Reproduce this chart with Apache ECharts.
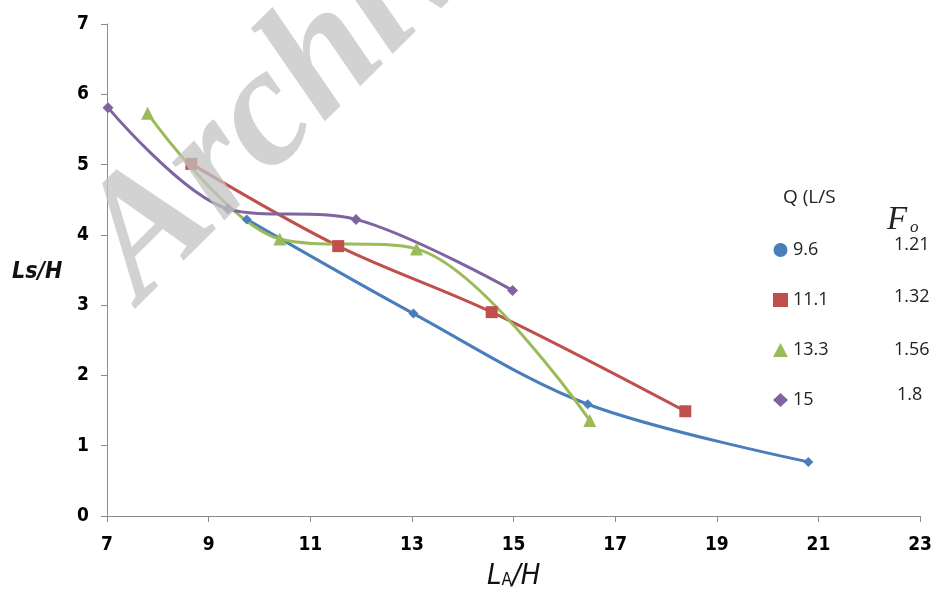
<!DOCTYPE html>
<html><head><meta charset="utf-8">
<script src="https://cdn.jsdelivr.net/npm/echarts@6/dist/echarts.min.js"></script>
<style>html,body{margin:0;padding:0;background:#fff}#c{width:935px;height:597px}</style>
</head><body><div id="c"></div>
<script>
const seriesNames = ['9.6', '11.1', '13.3', '15'];
const foValues = ['1.21', '1.32', '1.56', '1.8'];
const q96 = [[9.75, 4.22], [13.03, 2.88], [16.46, 1.59], [20.8, 0.77]];
const q111 = [[8.66, 5.01], [11.55, 3.84], [14.57, 2.9], [18.38, 1.49]];
const q133 = [[7.8, 5.73], [10.4, 3.94], [13.09, 3.8], [16.5, 1.36]];
const q15 = [[7.02, 5.81], [9.38, 4.37], [11.9, 4.22], [14.98, 3.21]];
const xTicks = [7, 9, 11, 13, 15, 17, 19, 21, 23];
const yTicks = [0, 1, 2, 3, 4, 5, 6, 7];

const colors = ['#4A7EBB', '#C0504D', '#9BBB59', '#8064A2'];
const plotSymbols = ['diamond', 'rect', 'triangle', 'diamond'];
const plotSizes = [10, 12, 13, 11];
const legendIcons = ['circle', 'rect', 'triangle', 'diamond'];
const datasets = [q96, q111, q133, q15];

const chart = echarts.init(document.getElementById('c'));
const condFont = '"DejaVu Sans Condensed", "DejaVu Sans", sans-serif';
const labelFont = {fontFamily: condFont, fontWeight: 'bold', fontSize: 19, color: '#000'};

chart.setOption({
  animation: false,
  grid: {left: 107, right: 9, top: 24, bottom: 81, containLabel: false},
  xAxis: {
    type: 'value', min: xTicks[0], max: xTicks[xTicks.length - 1], interval: 2,
    axisLine: {show: true, lineStyle: {color: '#8c8c8c', width: 1}},
    axisTick: {show: true, length: 6, lineStyle: {color: '#8c8c8c'}},
    splitLine: {show: false},
    axisLabel: Object.assign({margin: 20}, labelFont)
  },
  yAxis: {
    type: 'value', min: yTicks[0], max: yTicks[yTicks.length - 1], interval: 1,
    axisLine: {show: true, lineStyle: {color: '#8c8c8c', width: 1}},
    axisTick: {show: true, length: 6, lineStyle: {color: '#8c8c8c'}},
    splitLine: {show: false},
    axisLabel: Object.assign({margin: 18}, labelFont)
  },
  legend: {
    orient: 'vertical', left: 768, top: 236, itemGap: 32, itemWidth: 15, itemHeight: 14,
    textStyle: {fontFamily: 'Open Sans', fontSize: 18, color: '#222'},
    data: seriesNames.map((n, i) => ({name: n, icon: legendIcons[i]}))
  },
  graphic: [
    {type: 'text', x: 170, y: 332, rotation: 0.78, z: 100, silent: true,
     style: {text: 'Archive', fill: 'rgba(195,195,195,0.75)', font: 'italic bold 170px "Liberation Serif"', textVerticalAlign: 'bottom'}},
    {type: 'text', left: 783, top: 188, style: {text: 'Q (L/S', fill: '#222', font: '19px "Open Sans"'}},
    {type: 'text', left: 887, top: 204, style: {text: 'F', fill: '#222', font: 'italic 33px "Liberation Serif"'}},
    {type: 'text', left: 910, top: 219, style: {text: 'o', fill: '#222', font: 'italic 17px "Liberation Serif"'}},
    ...foValues.map((v, i) => ({type: 'text', left: i === 3 ? 897 : 894, top: [236, 288, 341, 386][i], style: {text: v, fill: '#222', font: '18px "Open Sans"'}})),
    {type: 'text', left: 12, top: 261, style: {text: 'Ls/H', fill: '#111', font: 'italic bold 23px ' + condFont}},
    {type: 'text', left: 487, top: 562, style: {rich: {a: {font: 'italic 29px ' + condFont, fill: '#111'}, b: {font: '17px ' + condFont, fill: '#111', padding: [9, 0, 0, 0]}}, text: '{a|L}{b|A}{a|/H}'}}
  ],
  series: datasets.map((d, i) => ({
    name: seriesNames[i], type: 'line', data: d, smooth: 0.33,
    symbol: plotSymbols[i], symbolSize: plotSizes[i], showSymbol: true,
    itemStyle: {color: colors[i]}, lineStyle: {color: colors[i], width: 3}
  }))
});
</script></body></html>
